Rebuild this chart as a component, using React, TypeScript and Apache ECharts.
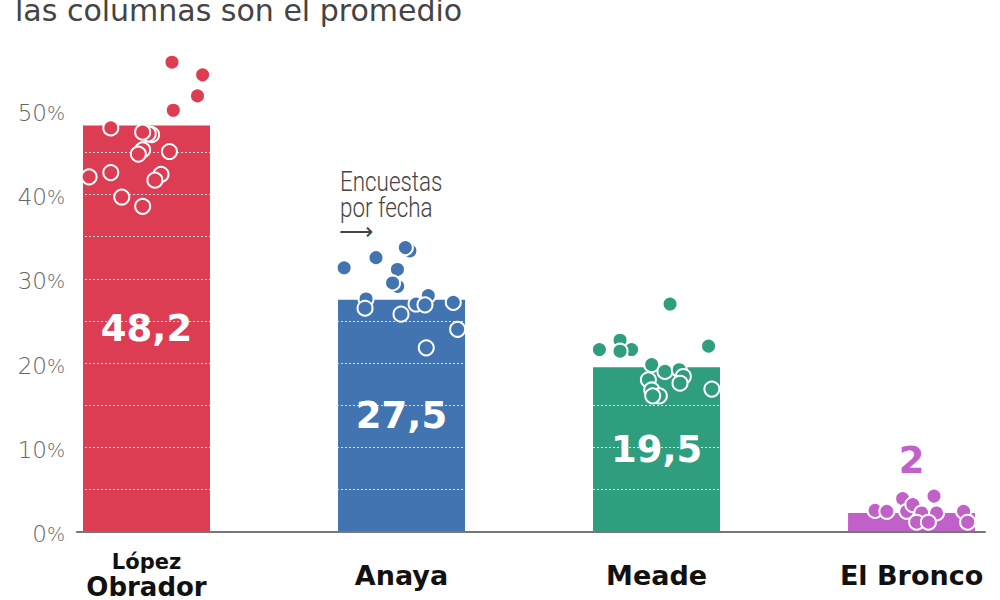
import { useEffect, useRef } from 'react';
import * as echarts from 'echarts';

// candidates and their poll averages
const categories = ['López Obrador', 'Anaya', 'Meade', 'El Bronco'];
const averages = [48.2, 27.5, 19.5, 2.2];
const averageLabels = ['48,2', '27,5', '19,5', '2'];
const yTickLabels = [0, 10, 20, 30, 40, 50];

// individual polls: [jitter within column, vote %]
const lopezPolls: [number, number][] = [
  [0.1, 55.7], [0.22, 54.2], [0.2, 51.7], [0.105, 50.0], [-0.14, 47.9],
  [0.02, 47.1], [0.007, 47.2], [-0.015, 47.4], [0.09, 45.1], [-0.015, 45.3],
  [-0.032, 44.8], [-0.225, 42.1], [-0.14, 42.6], [0.057, 42.4], [0.033, 41.7],
  [-0.097, 39.7], [-0.015, 38.6],
];
const anayaPolls: [number, number][] = [
  [-0.225, 31.3], [-0.1, 32.5], [0.033, 33.3], [0.015, 33.7], [-0.016, 31.1],
  [-0.015, 29.1], [-0.035, 29.5], [-0.139, 27.6], [-0.143, 26.5], [0.105, 28.0],
  [0.057, 27.0], [0.092, 26.9], [0.203, 27.2], [-0.002, 25.8], [0.22, 24.0],
  [0.097, 21.8],
];
const meadePolls: [number, number][] = [
  [0.053, 27.0], [-0.224, 21.6], [-0.143, 22.7], [-0.098, 21.6], [-0.143, 21.4],
  [0.204, 22.0], [-0.019, 19.8], [0.033, 19.0], [0.089, 19.2], [0.105, 18.4],
  [-0.032, 18.0], [0.092, 17.6], [-0.019, 16.8], [0.011, 16.1], [-0.015, 16.1],
  [0.217, 16.9],
];
const broncoPolls: [number, number][] = [
  [-0.143, 2.5], [-0.097, 2.4], [-0.035, 3.9], [-0.019, 2.4], [0.005, 3.2],
  [0.04, 2.2], [0.088, 4.2], [0.098, 2.2], [0.02, 1.1], [0.066, 1.1],
  [0.204, 2.4], [0.22, 1.1],
];
const polls = [lopezPolls, anayaPolls, meadePolls, broncoPolls];

const colors = ['#dc3d53', '#4174b0', '#2f9e7e', '#c160c9'];
const boldFont = 'DejaVu Sans';

export default function App() {
  const chartRef = useRef<HTMLDivElement>(null);

  useEffect(() => {
    if (!chartRef.current) return;
    document.body.style.margin = '0';
    const chart = echarts.init(chartRef.current, undefined, { renderer: 'svg' });

    const option: echarts.EChartsOption = {
      animation: false,
      grid: { left: 77, right: 15, top: 26, bottom: 68 },
      xAxis: {
        type: 'value',
        min: -0.2725,
        max: 3.288,
        z: 5,
        splitLine: { show: false },
        axisTick: { show: false },
        axisLine: { show: true, lineStyle: { color: '#777', width: 2 } },
        axisLabel: {
          customValues: [0, 1, 2, 3],
          margin: 44,
          verticalAlign: 'middle',
          formatter: (value: number) => {
            const name = categories[Math.round(value)];
            if (name === 'López Obrador') return '{a|López}\n{b|Obrador}';
            return `{c|${name}}`;
          },
          rich: {
            a: { fontFamily: boldFont, fontWeight: 'bold', fontSize: 21, lineHeight: 23, color: '#111' },
            b: { fontFamily: boldFont, fontWeight: 'bold', fontSize: 26, lineHeight: 27, color: '#111' },
            c: { fontFamily: boldFont, fontWeight: 'bold', fontSize: 27, color: '#111' },
          },
        },
      } as any,
      yAxis: {
        type: 'value',
        min: 0,
        max: 60,
        interval: 5,
        z: 3,
        axisLine: { show: false },
        axisTick: { show: false },
        splitLine: {
          show: true,
          lineStyle: { color: 'rgba(255,255,255,0.8)', width: 1, type: [2, 2] },
        },
        axisLabel: {
          margin: 12,
          padding: [5, 0, 0, 0],
          formatter: (value: number) =>
            yTickLabels.includes(value) ? `{n|${value}}{p|%}` : '',
          rich: {
            n: { fontFamily: 'DejaVu Sans', fontWeight: 200, fontSize: 23, color: '#666' },
            p: { fontFamily: 'DejaVu Sans', fontWeight: 200, fontSize: 19, color: '#666' },
          },
        },
      },
      graphic: [
        {
          type: 'text',
          x: 15,
          y: 10,
          style: {
            text: 'las columnas son el promedio',
            fontFamily: 'DejaVu Sans',
            fontSize: 30,
            fill: '#444',
            verticalAlign: 'middle',
          },
        },
        {
          type: 'text',
          x: 340,
          y: 168,
          scaleX: 0.8,
          style: {
            text: 'Encuestas\npor fecha',
            fontFamily: 'Roboto',
            fontWeight: 300,
            fontSize: 28,
            lineHeight: 26,
            fill: '#444',
            verticalAlign: 'top',
          },
        },
        {
          type: 'text',
          x: 339,
          y: 232,
          style: {
            text: '⟶',
            fontFamily: 'DejaVu Sans',
            fontWeight: 200,
            fontSize: 24,
            fill: '#444',
            verticalAlign: 'middle',
          },
        },
      ],
      series: [
        {
          type: 'bar',
          barWidth: 127,
          barGap: '-100%',
          z: 2,
          silent: true,
          data: averages.map((v, i) => ({
            value: [i, v],
            itemStyle: { color: colors[i] },
          })),
        },
        // label layer, above the white dotted grid lines
        {
          type: 'bar',
          barWidth: 127,
          barGap: '-100%',
          z: 5,
          silent: true,
          itemStyle: { color: 'rgba(0,0,0,0)' },
          data: averages.map((v, i) => ({
            value: [i, v],
            label:
              v < 5
                ? { position: 'top', distance: 34, color: colors[i] }
                : undefined,
          })),
          label: {
            show: true,
            position: 'inside',
            formatter: (p: any) => averageLabels[p.dataIndex],
            color: '#fff',
            fontFamily: boldFont,
            fontWeight: 'bold',
            fontSize: 37,
          },
        },
        ...polls.map((list, i) => ({
          type: 'scatter' as const,
          z: 4,
          silent: true,
          symbolSize: 15,
          itemStyle: { color: colors[i], borderColor: '#fff', borderWidth: 2, opacity: 1 },
          data: list.map(([j, v]) => [i + j, v]),
        })),
      ],
    };

    chart.setOption(option);

    return () => {
      chart.dispose();
    };
  }, []);

  return <div ref={chartRef} style={{ width: '1000px', height: '600px' }} />;
}
